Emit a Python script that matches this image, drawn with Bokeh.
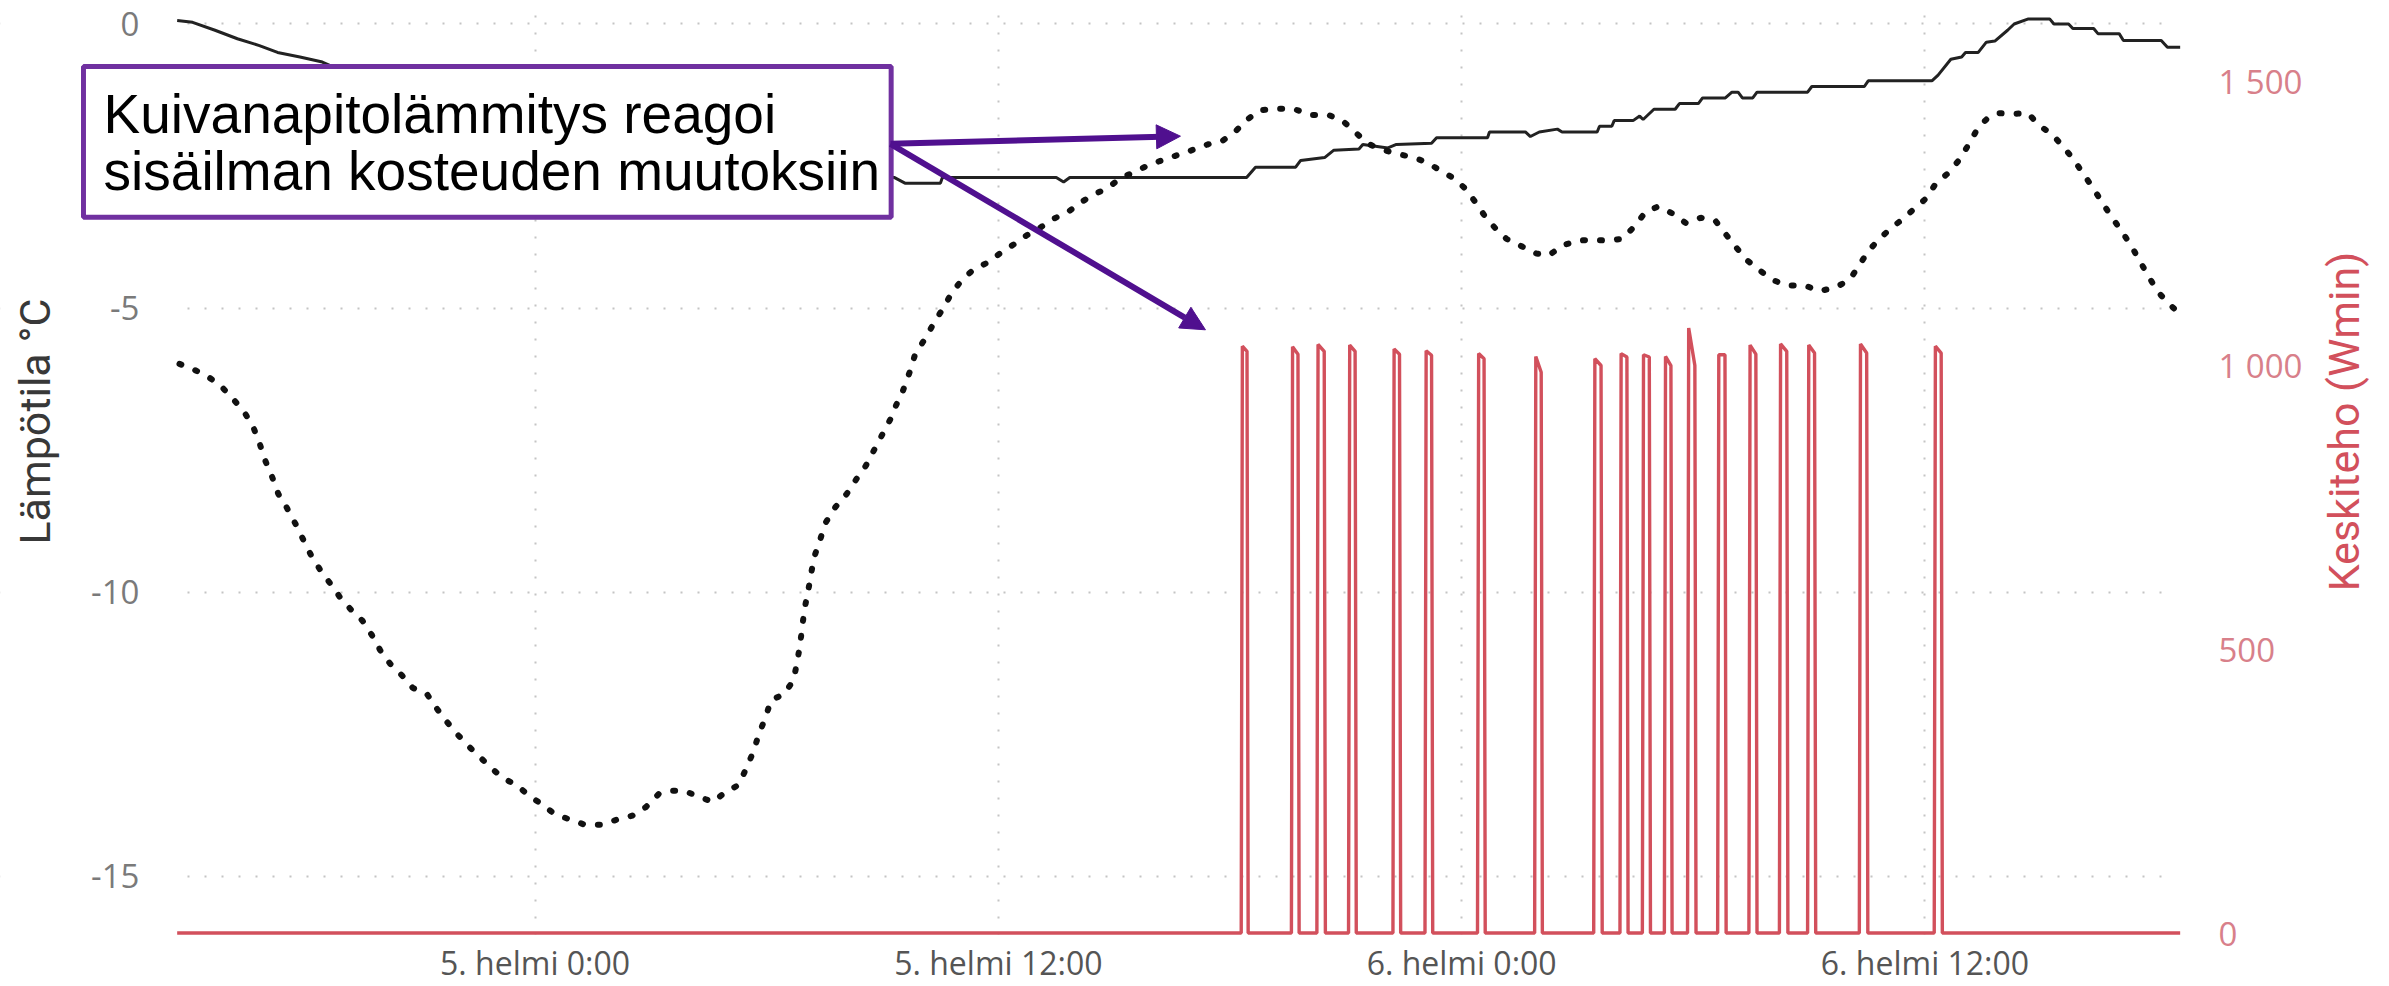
import math
from bokeh.plotting import figure
from bokeh.models import Range1d, LinearAxis, FixedTicker, BoxAnnotation, Label, Arrow, NormalHead
from bokeh.embed import file_html
from bokeh.resources import INLINE

# ---------------- data (x = hours from 5. helmi 0:00) ----------------
x_ticks = [0, 12, 24, 36]
x_tick_labels = ["5. helmi 0:00", "5. helmi 12:00", "6. helmi 0:00", "6. helmi 12:00"]
temp_ticks = [0, -5, -10, -15]
temp_tick_labels = ["0", "-5", "-10", "-15"]
power_ticks = [0, 500, 1000, 1500]
power_tick_labels = ["0", "500", "1 000", "1 500"]

left_title = "Lämpötila °C"
right_title = "Keskiteho (Wmin)"
note_lines = ["Kuivanapitolämmitys reagoi", "sisäilman kosteuden muutoksiin"]

series_start = -9.27
series_end = 42.61

indoor_t = [-9.27, -8.87, -8.29, -7.71, -7.14, -6.67, -6.09, -5.51, -5.17, -3.49,
            -0.90, 1.69, 4.28, 6.87, 8.95, 9.30, 9.58, 10.50, 10.55, 13.50,
            13.69, 13.85, 18.43, 18.66, 19.70, 19.83, 20.45, 20.69, 21.34, 21.44,
            22.09, 22.31, 23.22, 23.35, 24.67, 24.72, 25.65, 25.78, 26.01, 26.48,
            26.60, 27.51, 27.57, 27.89, 27.95, 28.44, 28.61, 28.70, 28.98, 29.53,
            29.64, 30.13, 30.24, 30.83, 31.00, 31.16, 31.27, 31.54, 31.65, 32.96,
            33.07, 34.43, 34.53, 36.18, 36.34, 36.67, 36.95, 37.05, 37.38, 37.59,
            37.81, 38.14, 38.31, 38.68, 39.23, 39.34, 39.72, 39.83, 40.37, 40.48,
            41.03, 41.14, 42.12, 42.28, 42.61]
indoor_temp = [0.06, 0.03, -0.11, -0.26, -0.38, -0.50, -0.58, -0.67, -0.77, -1.05,
               -1.55, -1.95, -2.30, -2.55, -2.68, -2.70, -2.80, -2.80, -2.70, -2.70,
               -2.78, -2.70, -2.70, -2.52, -2.52, -2.40, -2.35, -2.22, -2.20, -2.12,
               -2.18, -2.12, -2.10, -2.00, -2.00, -1.90, -1.90, -1.98, -1.90, -1.85,
               -1.90, -1.90, -1.80, -1.80, -1.70, -1.70, -1.62, -1.68, -1.50, -1.50,
               -1.40, -1.40, -1.30, -1.30, -1.20, -1.20, -1.30, -1.30, -1.20, -1.20,
               -1.10, -1.10, -1.00, -1.00, -0.90, -0.62, -0.58, -0.50, -0.50, -0.32,
               -0.30, -0.11, 0.00, 0.09, 0.09, 0.00, 0.00, -0.08, -0.08, -0.17,
               -0.17, -0.29, -0.29, -0.41, -0.41]

outdoor_t = [-9.21, -8.81, -8.46, -8.11, -7.82, -7.53, -7.30, -7.13, -6.99, -6.81,
             -6.65, -6.44, -6.21, -6.00, -5.80, -5.57, -5.30, -5.05, -4.76, -4.47,
             -4.22, -4.01, -3.75, -3.45, -3.17, -2.79, -2.54, -2.27, -2.01, -1.72,
             -1.43, -1.12, -0.83, -0.46, -0.16, 0.18, 0.50, 0.91, 1.29, 1.71,
             2.12, 2.52, 2.87, 3.20, 3.54, 3.85, 4.22, 4.61, 4.92, 5.27,
             5.47, 5.65, 5.80, 5.97, 6.11, 6.45, 6.69, 6.78, 6.86, 6.92,
             6.98, 7.07, 7.15, 7.23, 7.38, 7.53, 7.78, 8.07, 8.33, 8.57,
             9.23, 9.35, 9.53, 9.70, 9.85, 10.11, 10.34, 10.59, 10.80, 11.09,
             11.38, 11.75, 12.07, 12.42, 12.73, 13.09, 13.42, 13.80, 14.13, 14.47,
             14.83, 15.16, 15.51, 15.87, 16.27, 16.67, 17.06, 17.42, 17.82, 18.17,
             18.45, 18.76, 19.24, 19.64, 20.08, 20.55, 20.91, 21.24, 21.55, 21.90,
             22.30, 22.70, 23.09, 23.45, 23.81, 24.10, 24.36, 24.62, 24.88, 25.16,
             25.58, 25.94, 26.27, 26.59, 27.03, 27.35, 27.78, 28.17, 28.49, 28.76,
             29.09, 29.48, 29.80, 30.19, 30.57, 30.83, 31.11, 31.38, 31.71, 32.04,
             32.42, 32.89, 33.26, 33.67, 34.05, 34.29, 34.54, 34.82, 35.11, 35.39,
             35.69, 36.01, 36.29, 36.59, 36.89, 37.14, 37.38, 37.65, 37.92, 38.31,
             38.67, 38.96, 39.28, 39.58, 39.86, 40.10, 40.34, 40.59, 40.84, 41.08,
             41.34, 41.58, 41.79, 42.04, 42.32, 42.59]
outdoor_temp = [-5.98, -6.09, -6.21, -6.39, -6.60, -6.83, -7.09, -7.39, -7.68, -7.97,
                -8.27, -8.50, -8.79, -9.08, -9.35, -9.60, -9.85, -10.09, -10.31, -10.50,
                -10.76, -11.02, -11.26, -11.46, -11.68, -11.80, -12.05, -12.29, -12.50, -12.71,
                -12.90, -13.10, -13.27, -13.40, -13.58, -13.73, -13.90, -14.00, -14.09, -14.09,
                -14.00, -13.93, -13.78, -13.55, -13.49, -13.49, -13.59, -13.69, -13.52, -13.39,
                -13.10, -12.81, -12.49, -12.20, -11.90, -11.79, -11.55, -11.26, -10.94, -10.61,
                -10.29, -9.99, -9.67, -9.38, -9.08, -8.77, -8.50, -8.27, -8.00, -7.77,
                -6.92, -6.71, -6.45, -6.13, -5.80, -5.53, -5.25, -4.98, -4.72, -4.48,
                -4.31, -4.19, -4.02, -3.87, -3.72, -3.58, -3.43, -3.31, -3.14, -3.00,
                -2.89, -2.71, -2.61, -2.49, -2.39, -2.30, -2.21, -2.12, -2.05, -1.87,
                -1.68, -1.52, -1.49, -1.49, -1.60, -1.60, -1.70, -1.90, -2.10, -2.20,
                -2.28, -2.34, -2.43, -2.58, -2.72, -2.90, -3.14, -3.40, -3.60, -3.78,
                -3.92, -4.04, -4.07, -3.90, -3.81, -3.80, -3.81, -3.78, -3.55, -3.31,
                -3.21, -3.34, -3.50, -3.41, -3.46, -3.69, -3.93, -4.15, -4.33, -4.50,
                -4.60, -4.60, -4.70, -4.64, -4.50, -4.25, -3.99, -3.78, -3.60, -3.45,
                -3.27, -3.08, -2.80, -2.63, -2.39, -2.11, -1.82, -1.64, -1.57, -1.58,
                -1.57, -1.79, -1.93, -2.16, -2.39, -2.64, -2.87, -3.14, -3.40, -3.63,
                -3.90, -4.19, -4.44, -4.72, -4.92, -5.10]

pulse_on = [18.29, 19.59, 20.25, 21.07, 22.22, 23.05, 24.41, 25.89, 27.42, 28.10,
            28.68, 29.25, 29.85, 30.63, 31.44, 32.23, 32.96, 34.30, 36.24]
pulse_off = [18.47, 19.79, 20.47, 21.27, 22.42, 23.25, 24.61, 26.09, 27.64, 28.31,
             28.89, 29.45, 30.07, 30.85, 31.65, 32.45, 33.17, 34.52, 36.45]
pulse_peak = [1034, 1033, 1037, 1036, 1029, 1026, 1021, 1016, 1012, 1021,
              1019, 1016, 1066, 1019, 1036, 1038, 1036, 1038, 1034]
pulse_fall = [1025, 1020, 1025, 1025, 1020, 1018, 1012, 988, 1000, 1015,
              1015, 1000, 1000, 1019, 1020, 1025, 1022, 1022, 1022]

# power series built from the pulse table
power_t = [series_start]
power_w = [0]
for on, off, pk, fl in zip(pulse_on, pulse_off, pulse_peak, pulse_fall):
    power_t += [on, on + 0.03, off - 0.03, off]
    power_w += [0, pk, fl, 0]
power_t.append(series_end)
power_w.append(0)

# ---------------- layout constants (frame = whole canvas) ----------------
X_VIEW = (-13.846, 48.032)
Y_VIEW = (-16.936, 0.4135)
P_VIEW = (-94.27, 1643.2)
PLOT_LEFT, PLOT_RIGHT = -9.262, 42.617     # where the y axes sit
PLOT_BOTTOM = -16.021                      # where the x axis sits
GRID_END = 42.438

RED = "#D2505C"
RED_LABEL = "#D8808A"
PURPLE_BOX = "#7030A0"
PURPLE_ARROW = "#50108F"
GRID = "#C4C4C4"
TICK_FONT = "Open Sans"
TITLE_FONT = "Roboto"

p = figure(width=2389, height=986,
           x_range=Range1d(*X_VIEW), y_range=Range1d(*Y_VIEW),
           output_backend="svg", toolbar_location=None,
           min_border_left=0, min_border_right=0,
           min_border_top=0, min_border_bottom=0)
p.extra_y_ranges = {"power": Range1d(*P_VIEW)}
p.outline_line_color = None
p.background_fill_color = "white"
p.border_fill_color = "white"

# x axis
xa = p.xaxis[0]
xa.fixed_location = PLOT_BOTTOM
xa.ticker = FixedTicker(ticks=x_ticks)
xa.major_label_overrides = dict(zip(x_ticks, x_tick_labels))
xa.axis_line_color = None
xa.major_tick_line_color = None
xa.minor_tick_line_color = None
xa.major_label_standoff = 1
xa.major_label_text_font = TICK_FONT
xa.major_label_text_font_size = "32px"
xa.major_label_text_line_height = 1.0
xa.major_label_text_color = "#555555"

# left axis
ya = p.yaxis[0]
ya.fixed_location = PLOT_LEFT
ya.ticker = FixedTicker(ticks=temp_ticks)
ya.major_label_overrides = dict(zip(temp_ticks, temp_tick_labels))
ya.axis_line_color = None
ya.major_tick_line_color = None
ya.minor_tick_line_color = None
ya.major_label_standoff = 32
ya.major_label_text_font = TICK_FONT
ya.major_label_text_font_size = "33px"
ya.major_label_text_color = "#7A7A7A"

# right axis
ra = LinearAxis(y_range_name="power", ticker=FixedTicker(ticks=power_ticks),
                fixed_location=PLOT_RIGHT)
ra.major_label_overrides = dict(zip(power_ticks, power_tick_labels))
ra.axis_line_color = None
ra.major_tick_line_color = None
ra.minor_tick_line_color = None
ra.major_label_standoff = 32
ra.major_label_text_font = TICK_FONT
ra.major_label_text_font_size = "33px"
ra.major_label_text_color = RED_LABEL
p.add_layout(ra, "right")

# grids
p.xgrid[0].ticker = FixedTicker(ticks=x_ticks)
p.ygrid[0].ticker = FixedTicker(ticks=temp_ticks)
for g in (p.xgrid[0], p.ygrid[0]):
    g.grid_line_color = GRID
    g.grid_line_width = 2
    g.grid_line_dash = "2 15"
# keep the grid lines inside the data area
for kw in (dict(right=PLOT_LEFT), dict(left=GRID_END), dict(top=PLOT_BOTTOM)):
    p.add_layout(BoxAnnotation(fill_color="white", fill_alpha=1.0, line_alpha=0,
                               level="underlay", **kw))

# series
p.line(power_t, power_w, y_range_name="power", line_color=RED, line_width=3.4)
p.line(indoor_t, indoor_temp, line_color="#222222", line_width=3)
p.line(outdoor_t, outdoor_temp, line_color="#111111", line_width=6,
       line_dash="2 15", line_cap="round")

# axis titles
p.add_layout(Label(x=-12.965, y=-6.995, text=left_title, angle=math.pi / 2,
                   text_align="center", text_baseline="middle",
                   text_font=TITLE_FONT, text_font_size="43px", text_color="#383838"))
p.add_layout(Label(x=46.841, y=-6.995, text=right_title, angle=math.pi / 2,
                   text_align="center", text_baseline="middle",
                   text_font=TITLE_FONT, text_font_size="43px", text_color=RED))

# annotation box + text + arrows
p.add_layout(BoxAnnotation(left=-11.697, right=9.223, top=-0.748, bottom=-3.400,
                           fill_color="white", fill_alpha=1.0,
                           line_color=PURPLE_BOX, line_width=5, line_alpha=1.0))
p.add_layout(Label(x=-11.176, y=-1.585, text=note_lines[0],
                   text_font="Liberation Sans", text_font_size="55px",
                   text_color="black", text_baseline="alphabetic", text_align="left"))
p.add_layout(Label(x=-11.176, y=-2.595, text=note_lines[1],
                   text_font="Liberation Sans", text_font_size="55px",
                   text_color="black", text_baseline="alphabetic", text_align="left"))
for xe, ye in [(16.716, -1.974), (17.364, -5.381)]:
    p.add_layout(Arrow(x_start=9.205, y_start=-2.108, x_end=xe, y_end=ye,
                       line_color=PURPLE_ARROW, line_width=6,
                       end=NormalHead(size=24, fill_color=PURPLE_ARROW,
                                      line_color=PURPLE_ARROW, line_width=1)))

open("out.html", "w").write(file_html(p, INLINE))
